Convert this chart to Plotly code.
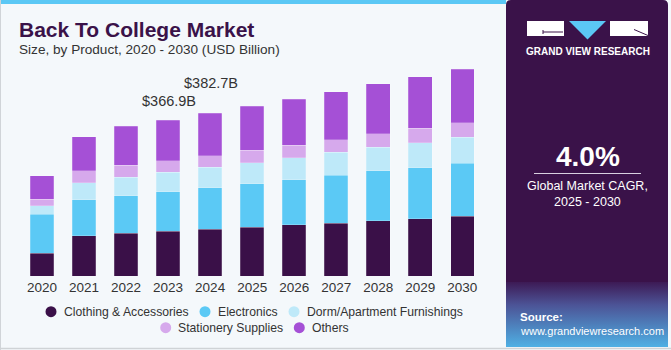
import plotly.graph_objects as go

years = ["2020", "2021", "2022", "2023", "2024", "2025", "2026", "2027", "2028", "2029", "2030"]
clothing = [53.4, 94.8, 101.1, 105.1, 109.8, 115.2, 120.0, 124.0, 129.4, 134.8, 141.1]
electronics = [91.7, 84.0, 87.7, 93.1, 97.8, 101.8, 106.5, 112.9, 117.6, 120.0, 124.0]
dorm = [20.2, 40.7, 44.0, 46.3, 48.0, 49.4, 51.7, 54.1, 56.4, 58.8, 61.2]
stationery = [15.1, 28.2, 27.5, 26.7, 27.4, 29.2, 29.9, 29.6, 31.3, 33.9, 34.3]
others = [54.8, 80.0, 92.4, 95.7, 99.7, 104.2, 107.5, 112.9, 116.9, 121.4, 125.6]
series_names = ["Clothing & Accessories", "Electronics", "Dorm/Apartment Furnishings",
                "Stationery Supplies", "Others"]
total_labels = {"2023": "$366.9B", "2024": "$382.7B"}
cagr_text = "4.0%"
cagr_caption = "Global Market CAGR,<br>2025 - 2030"

colors = ["#3a1048", "#5bc9f5", "#bee9f9", "#d6a9ec", "#a550d6"]
series = [clothing, electronics, dorm, stationery, others]

W, H = 671, 350
FONT = "Liberation Sans, Arial, sans-serif"

fig = go.Figure()
for name, vals, col in zip(series_names, series, colors):
    fig.add_trace(go.Bar(
        x=years, y=vals, name=name, marker_color=col,
        marker_line=dict(color="rgba(255,255,255,0.35)", width=0.6),
        showlegend=False, hoverinfo="skip"))

totals = [sum(v) for v in zip(*series)]
annotations = []
shifts = {"2023": 9, "2024": 20}
for yr, txt in total_labels.items():
    idx = years.index(yr)
    annotations.append(dict(
        x=idx, y=totals[idx], xref="x", yref="y", text=txt, showarrow=False,
        yanchor="bottom", yshift=shifts[yr], xshift=1,
        font=dict(family=FONT, size=14.5, color="#333333")))

# gradient at bottom of right panel (pixel coordinate overlay axes)
fig.add_trace(go.Scatter(
    x=[506, 668, 668, 506, 506], y=[282, 282, 347, 347, 282],
    xaxis="x2", yaxis="y2", mode="lines", line=dict(width=0),
    fill="toself", fillgradient=dict(type="vertical", start=282, stop=347,
                                     colorscale=[[0, "#3d1a55"], [0.35, "#4c5396"], [1, "#4fb0e4"]]),
    showlegend=False, hoverinfo="skip"))

px = dict(xref="x2", yref="y2")
shapes = [
    dict(type="rect", x0=0, x1=506, y0=0, y1=4, fillcolor="#5bc8f5", line_width=0, layer="below", **px),
    dict(type="line", x0=0.5, x1=0.5, y0=0, y1=350, line=dict(color="#d0d4d8", width=1), layer="below", **px),
    dict(type="line", x0=0, x1=671, y0=348.5, y1=348.5, line=dict(color="#cfd3d6", width=1.5), layer="below", **px),
    dict(type="path", path="M506,5 Q506,0 511,0 L663,0 Q668,0 668,5 L668,347 L506,347 Z",
         fillcolor="#3a1249", line_width=0, layer="below", **px),
    dict(type="rect", x0=527, x1=564, y0=21, y1=36, fillcolor="white", line_width=0, **px),
    dict(type="path", path="M569,21 L606,21 L587.5,39.5 Z", fillcolor="#5bc8f5", line_width=0, **px),
    dict(type="rect", x0=610, x1=648, y0=21, y1=36, fillcolor="white", line_width=0, **px),
    dict(type="line", x0=543, x1=563, y0=32, y1=32, line=dict(color="#3a1249", width=1), **px),
    dict(type="line", x0=543, x1=543, y0=30, y1=34, line=dict(color="#3a1249", width=1), **px),
    dict(type="line", x0=634, x1=648, y0=29.5, y1=35.5, line=dict(color="#3a1249", width=1), **px),
    dict(type="line", x0=534, x1=641, y0=173.5, y1=173.5, line=dict(color="#d8d0e0", width=1), **px),
]

# custom legend (circle + label), layout positions in page pixels
legend_pos = [(51, 311.7), (205, 311.7), (294, 311.7), (165.7, 327.7), (299.3, 327.7)]
for name, col, (cx, cy) in zip(series_names, colors, legend_pos):
    shapes.append(dict(type="circle", x0=cx - 5.5, x1=cx + 5.5, y0=cy - 5.5, y1=cy + 5.5,
                       fillcolor=col, line_width=0, **px))
    annotations.append(dict(x=cx + 10.5, y=cy, text=name, xanchor="left", yanchor="middle",
                            showarrow=False, font=dict(family=FONT, size=12.2, color="#333333"), **px))

annotations += [
    dict(x=17, y=29, text="<b>Back To College Market</b>", xanchor="left", yanchor="middle",
         showarrow=False, font=dict(family=FONT, size=21, color="#3a1249"), **px),
    dict(x=17, y=49, text="Size, by Product, 2020 - 2030 (USD Billion)", xanchor="left", yanchor="middle",
         showarrow=False, font=dict(family=FONT, size=13.6, color="#333333"), **px),
    dict(x=587.5, y=51, text="<b>GRAND VIEW RESEARCH</b>", xanchor="center", yanchor="middle",
         showarrow=False, font=dict(family=FONT, size=10, color="white"), **px),
    dict(x=587.5, y=156, text="<b>" + cagr_text + "</b>", xanchor="center", yanchor="middle",
         showarrow=False, font=dict(family=FONT, size=28, color="white"), **px),
    dict(x=587.5, y=193.5, text=cagr_caption, xanchor="center", yanchor="middle",
         showarrow=False, font=dict(family=FONT, size=12.5, color="white"), **px),
    dict(x=518, y=316.5, text="<b>Source:</b>", xanchor="left", yanchor="middle",
         showarrow=False, font=dict(family=FONT, size=11.5, color="white"), **px),
    dict(x=518, y=330.5, text="www.grandviewresearch.com", xanchor="left", yanchor="middle",
         showarrow=False, font=dict(family=FONT, size=11, color="white"), **px),
]

fig.update_layout(
    width=W, height=H, margin=dict(l=0, r=0, t=0, b=0),
    paper_bgcolor="#f4f8fb", plot_bgcolor="rgba(0,0,0,0)",
    barmode="stack", bargap=0.44, showlegend=False,
    xaxis=dict(domain=[21 / W, 483.3 / W], range=[-0.5, 10.5], type="category",
               showgrid=False, zeroline=False, showline=False, ticks="",
               tickfont=dict(family=FONT, size=13.5, color="#333333"), ticklabelstandoff=1),
    yaxis=dict(domain=[(H - 276) / H, (H - 60) / H], range=[0, 508], visible=False),
    xaxis2=dict(domain=[0, 1], range=[0, W], visible=False, anchor="y2"),
    yaxis2=dict(domain=[0, 1], range=[H, 0], visible=False, anchor="x2"),
    shapes=shapes, annotations=annotations,
)

fig.write_html("out.html")
